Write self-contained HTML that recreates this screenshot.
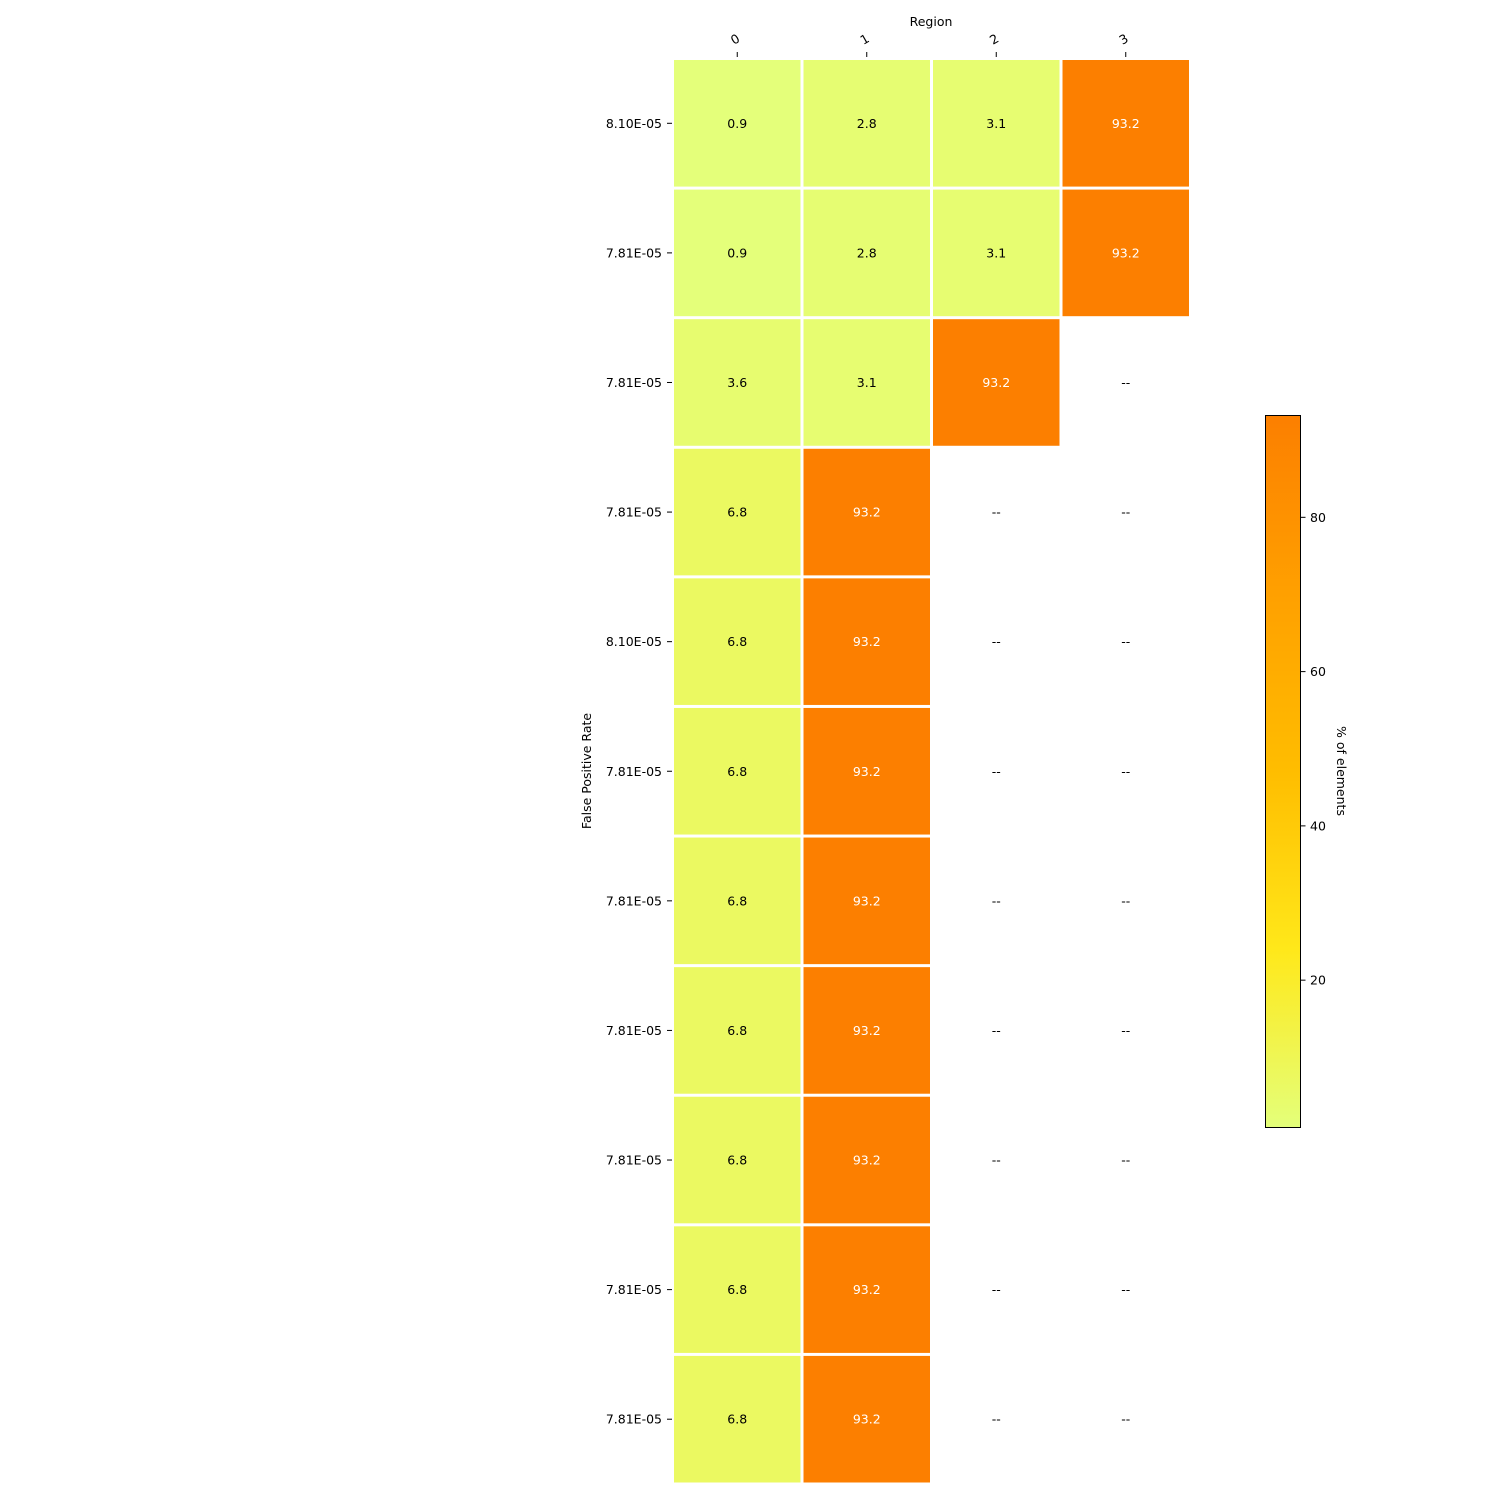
<!DOCTYPE html>
<html><head><meta charset="utf-8"><style>
html,body{margin:0;padding:0;background:#fff;}
svg{display:block;font-family:"DejaVu Sans","Liberation Sans",sans-serif;}
</style></head><body>
<svg id="chart" width="1500" height="1500" viewBox="0 0 1500 1500">
<defs><linearGradient id="cbgrad" x1="0" y1="1" x2="0" y2="0">
<stop offset="0" stop-color="#e4ff7a"/><stop offset="0.25" stop-color="#ffe81a"/><stop offset="0.5" stop-color="#ffbd00"/><stop offset="0.75" stop-color="#ffa000"/><stop offset="1" stop-color="#fc7f00"/>
</linearGradient></defs>
<g id="cells"></g>
<g id="axes"></g>
<text x="931" y="26" text-anchor="middle" font-size="12.5">Region</text>
<text transform="translate(591,771) rotate(-90)" text-anchor="middle" font-size="12.5">False Positive Rate</text>
<rect x="1265.5" y="415.5" width="35" height="712" fill="url(#cbgrad)" stroke="#000" stroke-width="1"/>
<g id="cbticks"></g>
<text transform="translate(1337,771) rotate(90)" text-anchor="middle" font-size="12.5">% of elements</text>
</svg>
<script>
const columns = ["0","1","2","3"];
const rowLabels = ["8.10E-05","7.81E-05","7.81E-05","7.81E-05","8.10E-05","7.81E-05","7.81E-05","7.81E-05","7.81E-05","7.81E-05","7.81E-05"];
const values = [
 [0.9,2.8,3.1,93.2],
 [0.9,2.8,3.1,93.2],
 [3.6,3.1,93.2,null],
 [6.8,93.2,null,null],
 [6.8,93.2,null,null],
 [6.8,93.2,null,null],
 [6.8,93.2,null,null],
 [6.8,93.2,null,null],
 [6.8,93.2,null,null],
 [6.8,93.2,null,null],
 [6.8,93.2,null,null]
];
const cbTicks = [20,40,60,80];
const vmin = 0.9, vmax = 93.2;
const NS = "http://www.w3.org/2000/svg";
const gx0 = 672.5, gx1 = 1190.5, gy0 = 58.5, gy1 = 1484;
const cw = (gx1-gx0)/columns.length, ch = (gy1-gy0)/rowLabels.length;
const xPos = i => gx0 + i*cw;
const yPos = j => gy0 + j*ch;
const stops = [[0,[228,255,122]],[0.25,[255,232,26]],[0.5,[255,189,0]],[0.75,[255,160,0]],[1,[252,127,0]]];
function cmap(v){
  let t = Math.max(0,Math.min(1,(v-vmin)/(vmax-vmin)));
  for(let k=1;k<stops.length;k++){
    if(t<=stops[k][0]){
      const a=stops[k-1],b=stops[k],f=(t-a[0])/(b[0]-a[0]);
      const c=a[1].map((x,i)=>Math.round(x+(b[1][i]-x)*f));
      return `rgb(${c.join(',')})`;
    }
  }
  return "rgb(252,127,0)";
}
function mk(tag,attrs,parent){const e=document.createElementNS(NS,tag);for(const k in attrs)e.setAttribute(k,attrs[k]);parent.appendChild(e);return e;}
const cells=document.getElementById('cells'), axes=document.getElementById('axes'), cbt=document.getElementById('cbticks');
values.forEach((row,j)=>{
  row.forEach((v,i)=>{
    const cx = xPos(i)+cw/2, cy = yPos(j)+ch/2;
    if(v!==null){
      const r=mk('rect',{x:xPos(i)+1.5,y:yPos(j)+1.5,width:cw-3,height:ch-3,fill:cmap(v)},cells);
      
      
    }
    const t=mk('text',{x:cx,y:cy+4.5,'text-anchor':'middle','font-size':12.5,fill:(v!==null && (v-vmin)/(vmax-vmin)>0.6)?'#fff':'#000'},cells);
    t.textContent = v===null ? '--' : v.toFixed(1);
    
    
  });
});
columns.forEach((c,i)=>{
  const x=xPos(i)+cw/2;
  const l=mk('line',{x1:x,x2:x,y1:52,y2:57,stroke:'#000','stroke-width':1},axes);
  
  
  const t=mk('text',{transform:`translate(${x},43) rotate(-30)`,'text-anchor':'middle','font-size':12.5},axes);
  t.textContent=c;
  
  
});
rowLabels.forEach((lab,j)=>{
  const y=yPos(j)+ch/2;
  const l=mk('line',{x1:667,x2:672,y1:y,y2:y,stroke:'#000','stroke-width':1},axes);
  
  
  const t=mk('text',{x:662,y:y+4.5,'text-anchor':'end','font-size':12.5},axes);
  t.textContent=lab;
  
  
});
const cbTop=415.5, cbBot=1127.5;
const cbY = v => cbBot - (v-vmin)/(vmax-vmin)*(cbBot-cbTop);
cbTicks.forEach(v=>{
  const y=cbY(v);
  const l=mk('line',{x1:1300.5,x2:1305.5,y1:y,y2:y,stroke:'#000','stroke-width':1},cbt);
  
  
  const t=mk('text',{x:1310,y:y+4.5,'font-size':12.5},cbt);
  t.textContent=v;
  
  
});
</script>
</body></html>
